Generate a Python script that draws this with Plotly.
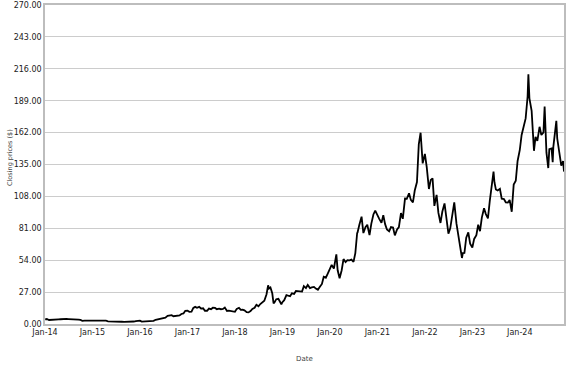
import plotly.graph_objects as go

dates = [
 "2014-01-02","2014-01-15","2014-02-01","2014-02-15","2014-03-01","2014-03-15","2014-04-01","2014-04-15","2014-05-01","2014-05-15","2014-06-01","2014-06-15","2014-07-01","2014-07-15","2014-08-01","2014-08-15","2014-09-01","2014-09-15","2014-10-01","2014-10-15","2014-11-01","2014-11-15","2014-12-01","2014-12-15",
 "2015-01-01","2015-01-15","2015-02-01","2015-02-15","2015-03-01","2015-03-15","2015-04-01","2015-04-15","2015-05-01","2015-05-15","2015-06-01","2015-06-15","2015-07-01","2015-07-15","2015-08-01","2015-08-15","2015-09-01","2015-09-15","2015-10-01","2015-10-15","2015-11-01","2015-11-15","2015-12-01","2015-12-15",
 "2016-01-01","2016-01-15","2016-02-01","2016-02-15","2016-03-01","2016-03-15","2016-04-01","2016-04-15","2016-05-01","2016-05-15","2016-06-01","2016-06-15","2016-07-01","2016-07-15","2016-08-01","2016-08-15","2016-09-01","2016-09-15","2016-10-01","2016-10-15","2016-11-01","2016-11-15","2016-12-01","2016-12-15",
 "2017-01-01","2017-01-15","2017-02-01","2017-02-15","2017-03-01","2017-03-15","2017-04-01","2017-04-15","2017-05-01","2017-05-15","2017-06-01","2017-06-15","2017-07-01","2017-07-15","2017-08-01","2017-08-15","2017-09-01","2017-09-15","2017-10-01","2017-10-15","2017-11-01","2017-11-15","2017-12-01","2017-12-15",
 "2018-01-01","2018-01-15","2018-02-01","2018-02-15","2018-03-01","2018-03-15","2018-04-01","2018-04-15","2018-05-01","2018-05-15","2018-06-01","2018-06-15","2018-07-01","2018-07-15","2018-08-01","2018-08-15","2018-09-01","2018-09-13","2018-09-20","2018-10-01","2018-10-15","2018-10-25","2018-11-01","2018-11-15","2018-12-01","2018-12-15","2018-12-24",
 "2019-01-01","2019-01-15","2019-02-01","2019-02-15","2019-03-01","2019-03-15","2019-04-01","2019-04-15","2019-05-01","2019-05-15","2019-06-01","2019-06-15","2019-07-01","2019-07-15","2019-08-01","2019-08-15","2019-09-01","2019-09-15","2019-10-01","2019-10-15","2019-11-01","2019-11-15","2019-12-01","2019-12-15",
 "2020-01-01","2020-01-15","2020-02-01","2020-02-15","2020-02-20","2020-03-01","2020-03-16","2020-04-01","2020-04-15","2020-05-01","2020-05-15","2020-06-01","2020-06-15","2020-07-01","2020-07-15","2020-07-29","2020-08-01","2020-08-15","2020-09-01","2020-09-15","2020-10-01","2020-10-15","2020-11-01","2020-11-15","2020-12-01","2020-12-15",
 "2021-01-01","2021-01-15","2021-02-01","2021-02-15","2021-03-01","2021-03-15","2021-04-01","2021-04-15","2021-05-01","2021-05-15","2021-06-01","2021-06-15","2021-07-01","2021-07-15","2021-08-01","2021-08-15","2021-09-01","2021-09-15","2021-10-01","2021-10-15","2021-11-01","2021-11-15","2021-11-29","2021-12-01","2021-12-15",
 "2022-01-01","2022-01-15","2022-02-01","2022-02-15","2022-03-01","2022-03-15","2022-04-01","2022-04-15","2022-05-01","2022-05-15","2022-06-01","2022-06-15","2022-07-01","2022-07-15","2022-08-01","2022-08-15","2022-09-01","2022-09-15","2022-10-01","2022-10-13","2022-10-20","2022-11-01","2022-11-15","2022-12-01","2022-12-15",
 "2023-01-01","2023-01-15","2023-02-01","2023-02-15","2023-03-01","2023-03-15","2023-04-01","2023-04-15","2023-05-01","2023-05-15","2023-06-01","2023-06-13","2023-06-20","2023-07-01","2023-07-15","2023-08-01","2023-08-15","2023-09-01","2023-09-15","2023-10-01","2023-10-15","2023-10-31","2023-11-15","2023-12-01","2023-12-15",
 "2024-01-01","2024-01-15","2024-02-01","2024-02-15","2024-03-01","2024-03-07","2024-03-15","2024-04-01","2024-04-19","2024-05-01","2024-05-15","2024-06-01","2024-06-15","2024-07-01","2024-07-10","2024-07-24","2024-08-07","2024-08-15","2024-09-01","2024-09-10","2024-09-15","2024-10-01","2024-10-08","2024-10-15","2024-11-01","2024-11-15","2024-11-29","2024-12-06",
]

closes = [
 3.95,4.2,3.4,3.6,3.8,3.8,4.0,3.9,4.0,3.9,4.1,4.3,4.2,4.2,3.9,4.1,4.2,3.7,3.4,2.7,2.8,2.8,2.6,2.6,
 2.67,2.5,2.6,3.0,3.1,2.8,2.7,2.8,2.3,2.3,2.3,2.5,2.4,2.0,1.9,1.9,1.8,1.8,1.75,2.1,2.2,2.1,2.4,2.6,
 2.87,2.0,2.2,1.9,2.3,2.7,2.8,2.7,3.6,3.9,4.6,4.5,5.1,5.4,6.9,7.3,7.5,6.6,6.9,6.9,7.2,8.5,8.9,11.2,
 11.34,10.3,10.4,13.6,14.5,13.7,14.5,13.1,13.3,11.2,11.2,13.0,12.5,13.8,13.6,12.5,13.0,12.5,12.8,13.9,11.0,11.3,10.8,10.3,
 10.3,12.8,13.7,12.0,12.1,11.5,10.05,9.8,10.9,12.7,13.7,16.3,15.0,16.9,18.3,19.7,25.2,32.7,30.0,30.9,26.0,17.5,18.2,21.0,21.3,19.0,16.7,
 18.5,20.2,24.4,23.7,23.5,26.0,25.5,28.0,27.6,27.4,27.4,32.0,30.4,33.0,30.4,31.0,31.4,30.0,29.0,31.3,33.9,40.0,39.2,42.5,
 45.9,50.0,47.0,55.5,58.9,45.5,38.7,45.5,55.0,52.4,54.0,53.8,54.5,52.6,60.0,77.0,77.4,84.0,90.8,77.0,82.0,84.0,75.3,85.0,92.7,96.0,
 91.7,89.0,85.6,92.0,84.5,80.0,78.5,82.0,81.6,75.0,80.1,82.0,93.9,89.0,106.2,106.0,110.7,105.0,102.9,113.0,120.2,152.0,161.9,158.4,136.0,
 143.9,133.0,114.3,122.0,123.3,100.0,109.3,94.0,85.5,95.0,102.0,88.0,76.5,81.0,94.5,103.0,84.9,76.0,63.4,55.9,60.0,60.1,73.0,77.6,68.0,
 64.8,72.0,75.1,84.0,78.6,90.0,98.0,93.0,89.4,104.0,118.2,129.0,120.0,113.9,113.0,114.4,106.0,105.7,103.0,102.8,105.0,95.0,118.0,121.2,138.0,
 147.4,160.0,167.7,174.0,192.5,211.4,191.0,180.5,146.6,158.4,155.0,166.9,160.0,162.2,184.0,145.0,132.0,148.0,148.6,137.0,150.0,164.1,172.0,157.0,144.0,134.0,138.0,129.0,
]

y_ticks = [0, 27, 54, 81, 108, 135, 162, 189, 216, 243, 270]

L, R, T, B = 45, 13, 5, 43
W, H = 577, 367
pw = W - L - R
ph = H - T - B

fig = go.Figure()
fig.add_trace(go.Scatter(x=dates, y=closes, mode="lines",
                         line=dict(color="#000000", width=1.8), showlegend=False))

fig.update_layout(
    width=W, height=H,
    margin=dict(l=L, r=R, t=T, b=B),
    paper_bgcolor="white", plot_bgcolor="white",
    font=dict(family="DejaVu Sans", size=8, color="#333333"),
    xaxis=dict(
        range=["2014-01-01", "2024-12-06"],
        tickformat="%b-%y", dtick="M12", tick0="2014-01-01",
        showgrid=False, showline=True, linecolor="#bdbdbd", linewidth=1.5,
        mirror=True, ticks="", zeroline=False, automargin=False,
        tickfont=dict(size=8, color="#222222"),
    ),
    yaxis=dict(
        range=[0, 270], tickvals=y_ticks, tickformat=".2f",
        showgrid=True, gridcolor="#cccccc", gridwidth=1,
        showline=True, linecolor="#bdbdbd", linewidth=1.5, mirror=True,
        ticks="", zeroline=False, automargin=False,
        tickfont=dict(size=8, color="#222222"),
    ),
    annotations=[
        dict(text="Date", xref="paper", yref="paper",
             x=0.5, y=(T + ph - 359) / ph,
             xanchor="center", yanchor="middle", showarrow=False,
             font=dict(size=7, color="#444444")),
        dict(text="Closing prices ($)", xref="paper", yref="paper",
             x=-(L - 10) / pw, y=(T + ph - 158) / ph,
             xanchor="center", yanchor="middle", textangle=-90, showarrow=False,
             font=dict(size=6.5, color="#444444")),
    ],
)

fig.write_html(
    "out.html",
    config={"displayModeBar": False},
    post_script="document.body.style.margin='0';document.body.style.overflow='hidden';",
)
